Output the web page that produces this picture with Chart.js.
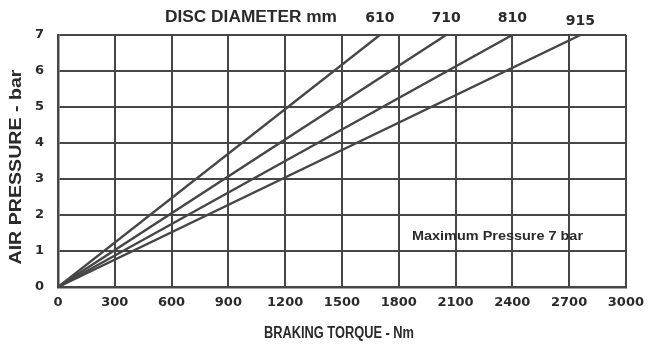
<!DOCTYPE html>
<html>
<head>
<meta charset="utf-8">
<script src="https://cdn.jsdelivr.net/npm/chart.js@4/dist/chart.umd.min.js"></script>
<style>
html,body{margin:0;padding:0;background:#fff;}
#wrap{width:652px;height:344px;position:relative;}
</style>
</head>
<body>
<div id="wrap"><canvas id="c" width="652" height="344"></canvas></div>
<script>
// Disc diameters (mm)
const diameters = ['610', '710', '810', '915'];
// Braking torque (Nm) reached at maximum pressure for each disc
const torqueAtMax = [1700, 2050, 2400, 2760];
// Pressure values (bar) at the two ends of each line
const pressures = [0, 7];
const xTicks = [0, 300, 600, 900, 1200, 1500, 1800, 2100, 2400, 2700, 3000];
const yTicks = [0, 1, 2, 3, 4, 5, 6, 7];
const titleTop = 'DISC DIAMETER mm';
const xTitle = 'BRAKING TORQUE - Nm';
const yTitle = 'AIR PRESSURE - bar';
const note = 'Maximum Pressure 7 bar';

const ink = '#464646';
const txt = '#2a2a2a';

const datasets = diameters.map((d, i) => ({
  label: d,
  data: [{x: 0, y: pressures[0]}, {x: torqueAtMax[i], y: pressures[1]}],
  borderColor: ink,
  borderWidth: 2.4,
  pointRadius: 0,
  fill: false,
  tension: 0
}));

function fitText(ctx, text, cx, cy, width, font, rot) {
  ctx.save();
  ctx.font = font;
  const w = ctx.measureText(text).width;
  ctx.translate(cx, cy);
  if (rot) ctx.rotate(rot);
  ctx.scale(width / w, 1);
  ctx.textAlign = 'center';
  ctx.textBaseline = 'middle';
  ctx.fillText(text, 0, 0);
  ctx.restore();
}

const textPlugin = {
  id: 'texts',
  afterDraw(chart) {
    const ctx = chart.ctx;
    const xs = chart.scales.x;
    ctx.save();
    ctx.fillStyle = txt;
    const f = 'bold %spx "Liberation Sans", Arial, sans-serif';
    fitText(ctx, titleTop, 251, 18, 172, f.replace('%s', 16));
    ctx.font = 'bold 14px "DejaVu Sans", sans-serif';
    ctx.textAlign = 'center';
    ctx.textBaseline = 'middle';
    diameters.forEach((d, i) => {
      const px = xs.getPixelForValue(torqueAtMax[i]);
      ctx.fillText(d, px, i === 3 ? 21 : 18);
    });
    fitText(ctx, note, 497.5, 236, 171, f.replace('%s', 13));
    fitText(ctx, xTitle, 339, 334, 150, f.replace('%s', 16));
    fitText(ctx, yTitle, 16, 167, 195, f.replace('%s', 17), -Math.PI / 2);
    ctx.restore();
  }
};

new Chart(document.getElementById('c'), {
  type: 'line',
  data: { datasets },
  options: {
    responsive: false,
    animation: false,
    layout: { padding: { top: 35, right: 24, left: 0, bottom: 0 } },
    plugins: { legend: { display: false }, tooltip: { enabled: false }, title: { display: false } },
    scales: {
      x: {
        type: 'linear', min: 0, max: 3000,
        afterFit(s) { s.height = 57; },
        afterBuildTicks(s) { s.ticks = xTicks.map(v => ({ value: v })); },
        ticks: { color: txt, font: { family: '"DejaVu Sans", sans-serif', size: 13, weight: 'bold' }, padding: 8, maxRotation: 0, autoSkip: false, callback: v => String(v) },
        grid: { color: ink, lineWidth: 2, drawTicks: false },
        border: { color: ink, width: 2.5 }
      },
      y: {
        type: 'linear', min: 0, max: 7,
        afterFit(s) { s.width = 58; },
        afterBuildTicks(s) { s.ticks = yTicks.map(v => ({ value: v })); },
        ticks: { color: txt, font: { family: '"DejaVu Sans", sans-serif', size: 13, weight: 'bold' }, padding: 14, callback: v => String(v) },
        grid: { color: ink, lineWidth: 2, drawTicks: false },
        border: { color: ink, width: 2.5 }
      }
    }
  },
  plugins: [textPlugin]
});
</script>
</body>
</html>
